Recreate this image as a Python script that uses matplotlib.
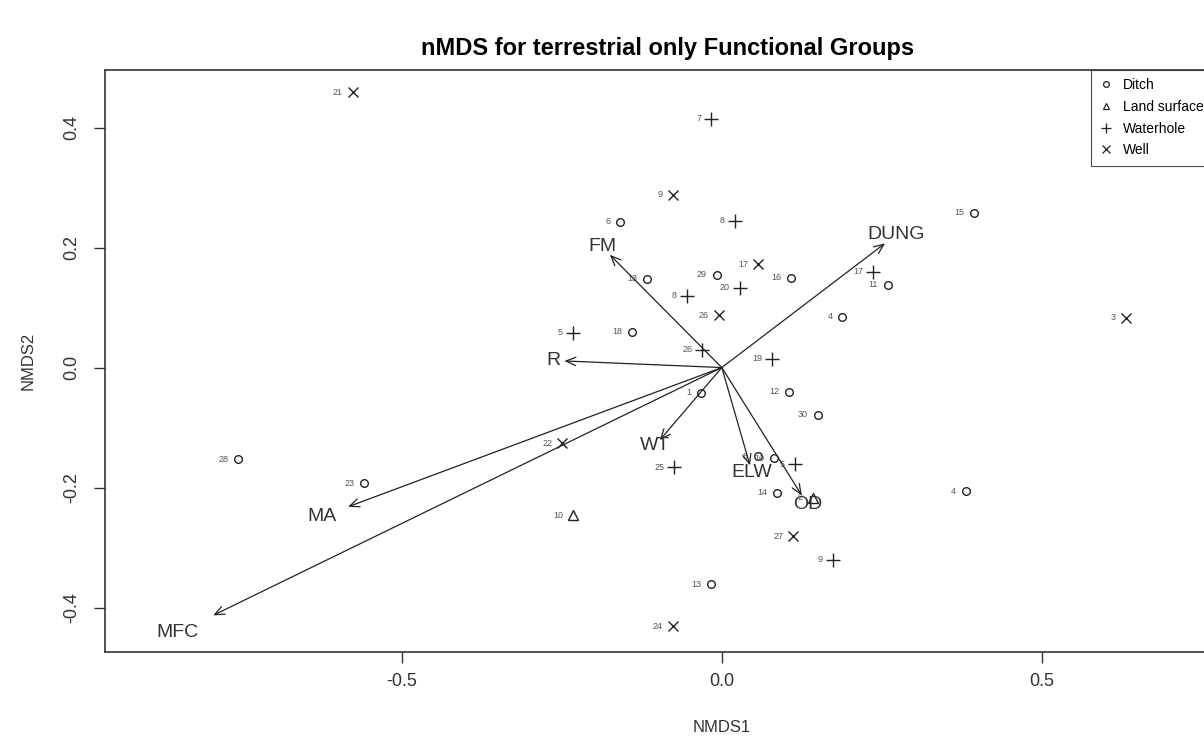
import matplotlib
matplotlib.use("Agg")
import matplotlib.pyplot as plt
from matplotlib.lines import Line2D

plt.rcParams['font.family'] = ['Liberation Sans', 'DejaVu Sans']

# site scores per habitat group
ditch_lab = ["6", "15", "29", "16", "13", "11", "4", "18", "1", "12", "30", "8", "10", "14", "4", "28", "23", "13"]
ditch_x = [-0.159, 0.394, -0.008, 0.108, -0.117, 0.259, 0.188, -0.141, -0.033, 0.105, 0.150, 0.056, 0.081, 0.087, 0.381, -0.756, -0.559, -0.017]
ditch_y = [0.243, 0.258, 0.155, 0.150, 0.148, 0.138, 0.085, 0.060, -0.042, -0.040, -0.079, -0.148, -0.151, -0.209, -0.206, -0.153, -0.193, -0.361]

land_lab = ["10", "2"]
land_x = [-0.233, 0.142]
land_y = [-0.246, -0.217]

water_lab = ["7", "8", "17", "20", "8", "5", "26", "19", "25", "5", "9"]
water_x = [-0.017, 0.020, 0.236, 0.028, -0.055, -0.233, -0.031, 0.078, -0.075, 0.114, 0.173]
water_y = [0.415, 0.245, 0.160, 0.133, 0.120, 0.058, 0.030, 0.015, -0.166, -0.161, -0.320]

well_lab = ["21", "9", "17", "26", "3", "22", "27", "24"]
well_x = [-0.577, -0.077, 0.056, -0.005, 0.631, -0.250, 0.111, -0.077]
well_y = [0.459, 0.288, 0.172, 0.087, 0.083, -0.126, -0.281, -0.431]

# fitted functional-group vectors
vec_lab = ["DUNG", "FM", "R", "MA", "MFC", "WT", "ELW", "OD"]
vec_x = [0.255, -0.175, -0.246, -0.584, -0.795, -0.097, 0.044, 0.125]
vec_y = [0.207, 0.188, 0.011, -0.232, -0.413, -0.121, -0.163, -0.213]

fig = plt.figure(figsize=(12.04, 7.44), dpi=100)
# plot frame runs slightly past the right edge (cropped in the original)
ax = fig.add_axes([0.0872, 0.1237, 0.9194, 0.7823])

groups = [
    (ditch_lab, ditch_x, ditch_y, 'o', 5.5, "Ditch"),
    (land_lab, land_x, land_y, '^', 6.5, "Land surface"),
    (water_lab, water_x, water_y, '+', 9.5, "Waterhole"),
    (well_lab, well_x, well_y, 'x', 7.5, "Well"),
]

for lab, xs, ys, mk, ms, name in groups:
    ax.plot(xs, ys, linestyle='none', marker=mk, markersize=ms,
            markerfacecolor='none', markeredgecolor='#222222', markeredgewidth=1.0)
    for t, x, y in zip(lab, xs, ys):
        ax.annotate(t, (x, y), xytext=(-7, 0), textcoords='offset points',
                    ha='right', va='center', fontsize=6.5, color='#555555')

for t, x, y in zip(vec_lab, vec_x, vec_y):
    ax.annotate("", xy=(x, y), xytext=(0, 0),
                arrowprops=dict(arrowstyle='->,head_length=0.7,head_width=0.3',
                                color='#222222', lw=0.9, shrinkA=0, shrinkB=0))
    ax.text(x * 1.07, y * 1.07, t, ha='center', va='center', fontsize=14, color='#333333')

ax.set_xlim(-0.964, 0.766)
ax.set_ylim(-0.474, 0.496)
ax.set_xticks([-0.5, 0.0, 0.5])
ax.set_yticks([-0.4, -0.2, 0.0, 0.2, 0.4])
ax.set_xticklabels(["-0.5", "0.0", "0.5"])
ax.set_yticklabels(["-0.4", "-0.2", "0.0", "0.2", "0.4"], rotation=90, va='center')
ax.tick_params(direction='out', length=8, width=1, labelsize=13, colors='#333333')
ax.tick_params(axis='x', pad=7)
ax.tick_params(axis='y', pad=10)
for s in ax.spines.values():
    s.set_color('#333333')
    s.set_linewidth(1.2)

ax.set_xlabel("NMDS1", fontsize=12, color='#333333')
ax.xaxis.set_label_coords(0.557, -0.117)
ax.set_ylabel("NMDS2", fontsize=12, color='#333333', labelpad=20)
fig.text(668 / 1204, 1 - 48 / 744, "nMDS for terrestrial only Functional Groups",
         ha='center', va='center', fontsize=17, fontweight='bold')

handles = [Line2D([], [], linestyle='none', marker=mk, markersize=ms * 0.75,
                  markerfacecolor='none', markeredgecolor='#222222', markeredgewidth=0.9)
           for _, _, _, mk, ms, _ in groups]
leg = ax.legend(handles, [g[5] for g in groups], loc='upper right', fontsize=10,
                frameon=True, fancybox=False, borderaxespad=0, handlelength=1.0,
                handletextpad=0.7, labelspacing=0.55, borderpad=0.6)
leg.get_frame().set_edgecolor('#222222')
leg.get_frame().set_linewidth(0.8)

fig.savefig("out.png", dpi=100)
